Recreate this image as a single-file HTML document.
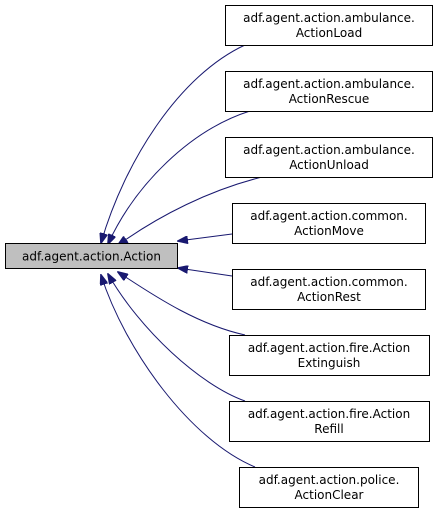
<!DOCTYPE html>
<html><head><style>body{margin:0;background:#fff}svg{display:block}text{font-family:"DejaVu Sans",sans-serif;font-size:12px}</style></head><body>
<svg width="437" height="509" viewBox="0 0 437 509" xmlns="http://www.w3.org/2000/svg">
<defs><marker id="a" markerWidth="11" markerHeight="8" refX="10" refY="4" orient="auto-start-reverse" markerUnits="userSpaceOnUse"><path d="M0,0 L11,4 L0,8 Z" fill="#191970" stroke="#191970"/></marker></defs>
<g fill="none" stroke="#191970" stroke-width="1" marker-start="url(#a)">
<path d="M101,243 C125,160 180,75 245,45"/>
<path d="M108,244 C135,185 190,130 250,111"/>
<path d="M118,245 C160,215 210,190 262,177"/>
<path d="M178,241 L232,234"/>
<path d="M178,268 L232,276"/>
<path d="M118,272 C160,300 200,325 245,335"/>
<path d="M108,274 C140,330 200,385 245,401"/>
<path d="M101,275 C125,350 190,440 255,467"/>
</g>
<rect x="5.5" y="243.5" width="172" height="25" fill="#bfbfbf" stroke="#000"/>
<text x="91.5" y="260.5" text-anchor="middle">adf.agent.action.Action</text>
<g fill="#fff" stroke="#000">
<rect x="225.5" y="5.5" width="207" height="40"/>
<rect x="225.5" y="71.5" width="207" height="40"/>
<rect x="225.5" y="137.5" width="207" height="40"/>
<rect x="232.5" y="203.5" width="193" height="40"/>
<rect x="232.5" y="269.5" width="193" height="40"/>
<rect x="229.5" y="335.5" width="200" height="40"/>
<rect x="229.5" y="401.5" width="200" height="40"/>
<rect x="239.5" y="467.5" width="179" height="40"/>
</g>
<g text-anchor="middle">
<text x="329" y="22">adf.agent.action.ambulance.</text><text x="329" y="37">ActionLoad</text>
<text x="329" y="88">adf.agent.action.ambulance.</text><text x="329" y="103">ActionRescue</text>
<text x="329" y="154">adf.agent.action.ambulance.</text><text x="329" y="169">ActionUnload</text>
<text x="329" y="220">adf.agent.action.common.</text><text x="329" y="235">ActionMove</text>
<text x="329" y="286">adf.agent.action.common.</text><text x="329" y="301">ActionRest</text>
<text x="329" y="352">adf.agent.action.fire.Action</text><text x="329" y="367">Extinguish</text>
<text x="329" y="418">adf.agent.action.fire.Action</text><text x="329" y="433">Refill</text>
<text x="329" y="484">adf.agent.action.police.</text><text x="329" y="499">ActionClear</text>
</g>
</svg>
</body></html>
